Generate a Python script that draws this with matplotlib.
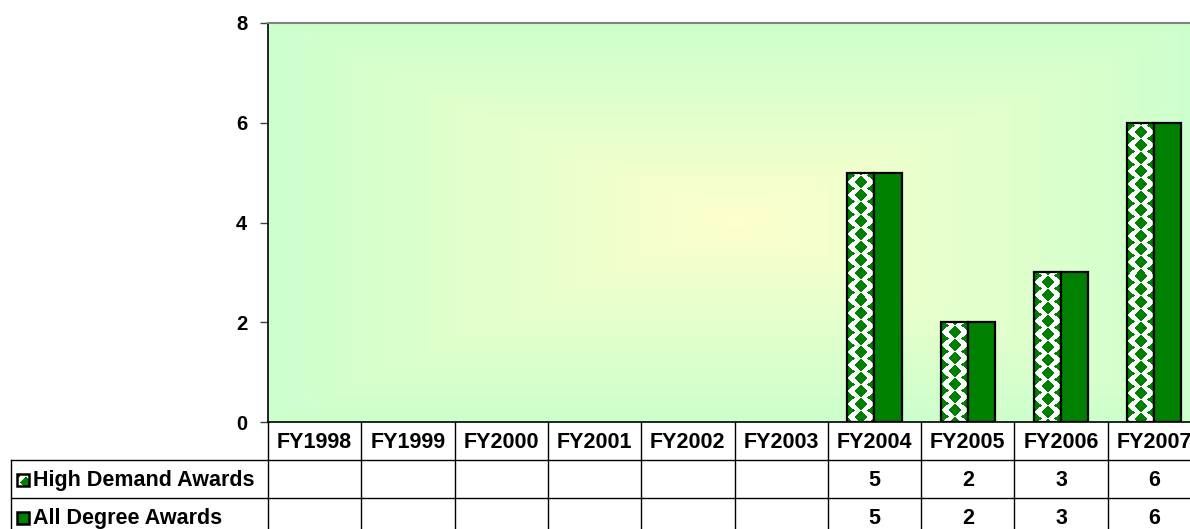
import numpy as np
import matplotlib
matplotlib.use("Agg")
from matplotlib import pyplot as plt
from matplotlib.patches import Rectangle
from matplotlib import transforms

plt.rcParams['font.family'] = ['Liberation Sans', 'DejaVu Sans']

years = ['FY1998', 'FY1999', 'FY2000', 'FY2001', 'FY2002', 'FY2003',
         'FY2004', 'FY2005', 'FY2006', 'FY2007']
high_demand = [None, None, None, None, None, None, 5, 2, 3, 6]
all_degree = [None, None, None, None, None, None, 5, 2, 3, 6]
series_names = ['High Demand Awards', 'All Degree Awards']
yticks = [0, 2, 4, 6, 8]

green = '#008000'
W, H, DPI = 1190, 529, 100

# pixel geometry of the plot area (from top-left)
left_px, top_px, bot_px = 268, 23, 422
cat_px = 93.3
right_px = left_px + cat_px * len(years)

fig = plt.figure(figsize=(W / DPI, H / DPI), dpi=DPI)
fig.patch.set_facecolor('white')
ax = fig.add_axes([left_px / W, 1 - bot_px / H,
                   (right_px - left_px) / W, (bot_px - top_px) / H])
ax.set_xlim(-0.5, len(years) - 0.5)
ax.set_ylim(0, 8)

# background: rectangular "from center" gradient yellow -> light green
pw, ph = int(right_px - left_px), int(bot_px - top_px)
gx = np.abs(np.linspace(-1, 1, pw))[None, :]
gy = np.abs(np.linspace(-1, 1, ph))[:, None]
t = np.clip(np.maximum(gx, gy) ** 0.9, 0, 1)
c0 = np.array([1.0, 1.0, 0.8])
c1 = np.array([0.8, 1.0, 0.8])
bg = c0[None, None, :] * (1 - t[..., None]) + c1[None, None, :] * t[..., None]
ax.imshow(bg, extent=[-0.5, len(years) - 0.5, 0, 8], aspect='auto',
          zorder=0, interpolation='bilinear')


def diamond_pattern(wpx, hpx, dx=12.0, dy=13.0, a=6.2, b=5.6, x0=1.5, y0=3.5):
    # green diamonds on a staggered lattice, white between
    xs = np.arange(wpx) + 0.5 - x0
    ys = np.arange(hpx) + 0.5 - y0
    X, Y = np.meshgrid(xs, ys)
    u = X / dx
    v = Y / (dy / 2)
    s = (u + v) / 2
    tt = (u - v) / 2
    fs = s - np.round(s)
    ft = tt - np.round(tt)
    du = (fs + ft) * dx
    dv = (fs - ft) * dy / 2
    inside = np.abs(du) / a + np.abs(dv) / b <= 1
    img = np.ones((hpx, wpx, 3))
    img[inside] = [0, 0.5, 0]
    return img


bw = 0.29
x = np.arange(len(years))
px_per_y = (bot_px - top_px) / 8.0
for i, (h1, h2) in enumerate(zip(high_demand, all_degree)):
    if h1:
        x0 = x[i] - bw
        wpx = int(round(bw * cat_px))
        hpx = int(round(h1 * px_per_y))
        img = diamond_pattern(wpx, hpx)
        ax.imshow(img, extent=[x0, x0 + bw, 0, h1], aspect='auto',
                  interpolation='nearest', zorder=2)
        ax.bar(x0, h1, width=bw, align='edge', facecolor='none',
               edgecolor='black', linewidth=1.6, zorder=3)
    if h2:
        ax.bar(x[i], h2, width=bw, align='edge', facecolor=green,
               edgecolor='black', linewidth=1.6, zorder=3)

ax.set_aspect('auto')
ax.set_xlim(-0.5, len(years) - 0.5)
ax.set_ylim(0, 8)
ax.set_xticks([])
ax.set_yticks(yticks)
ax.set_yticklabels([str(v) for v in yticks], fontsize=14.5, fontweight='bold')
ax.tick_params(axis='y', length=6, width=1, color='#404040', pad=9)
for side in ['right', 'bottom']:
    ax.spines[side].set_visible(False)
ax.spines['left'].set_color('black')
ax.spines['left'].set_linewidth(1.2)
ax.spines['top'].set_color('#808080')
ax.spines['top'].set_linewidth(1.5)
ax.plot([-0.5, len(years) - 0.5], [0, 0], color='black', lw=1.2,
        clip_on=False, zorder=4)

# data table below the axis
tr = transforms.blended_transform_factory(ax.transData, fig.transFigure)


def fy(py):
    return 1 - py / H


row_edges = [422, 460, 498, 536]
lw = 1.0
for k in range(len(years) + 1):
    ax.plot([k - 0.5, k - 0.5], [fy(row_edges[0]), fy(row_edges[-1])],
            transform=tr, color='black', lw=lw, clip_on=False)
for py in row_edges[1:]:
    fig.add_artist(plt.Line2D([11 / W, right_px / W], [fy(py), fy(py)],
                              color='black', lw=lw))
fig.add_artist(plt.Line2D([11 / W, 11 / W], [fy(row_edges[1]), fy(row_edges[-1])],
                          color='black', lw=lw))

for i, yr in enumerate(years):
    ax.text(x[i], fy(442), yr, transform=tr, ha='center', va='center',
            fontsize=15.5, fontweight='bold', clip_on=False)

for r, vals in enumerate([high_demand, all_degree]):
    yc = (row_edges[r + 1] + row_edges[r + 2]) / 2 + 1.5
    for i, v in enumerate(vals):
        if v is not None:
            ax.text(x[i], fy(yc), str(v), transform=tr, ha='center',
                    va='center', fontsize=15.5, fontweight='bold', clip_on=False)
    fig.text(33 / W, fy(yc), series_names[r], ha='left', va='center',
             fontsize=15.5, fontweight='bold')

# legend keys inside the table
k0, ks = 17, 12
ky = [(row_edges[1] + row_edges[2]) / 2 + 1, (row_edges[2] + row_edges[3]) / 2 + 1]
key_img = diamond_pattern(ks, ks, x0=-3, y0=2)
fig.figimage((key_img * 255).astype(np.uint8), xo=k0, yo=int(H - ky[0] - ks / 2),
             origin='upper', zorder=5)
fig.add_artist(Rectangle((k0 / W, fy(ky[0] + ks / 2)), ks / W, ks / H,
                         facecolor='none', edgecolor='black', lw=1.8, zorder=6))
fig.add_artist(Rectangle((k0 / W, fy(ky[1] + ks / 2)), ks / W, ks / H,
                         facecolor=green, edgecolor='black', lw=1.8, zorder=6))

fig.savefig('out.png', dpi=DPI)
